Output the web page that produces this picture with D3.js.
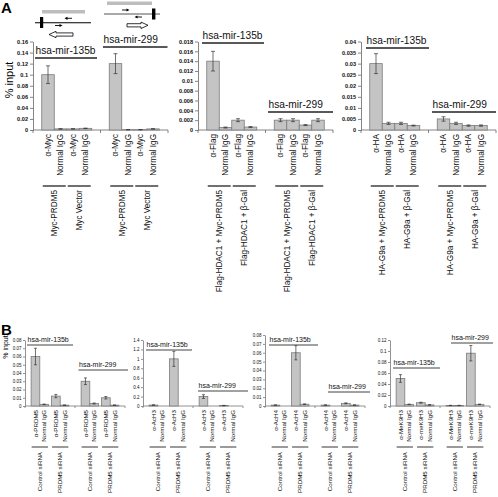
<!DOCTYPE html>
<html><head><meta charset="utf-8">
<script src="https://cdn.jsdelivr.net/npm/d3@7"></script>
<style>
body{margin:0;background:#fff}
svg{display:block}
text{font-family:"Liberation Sans",Arial,Helvetica,sans-serif}
</style>
</head><body>
<svg id="c" width="498" height="497"></svg>
<script>
// ================= DATA =================
const groupNames = ["hsa-mir-135b", "hsa-mir-299"];

// Panel A1 – Myc ChIP
const a1Antibodies = ["α-Myc", "Normal IgG", "α-Myc", "Normal IgG"];
const a1Conditions = ["Myc-PRDM5", "Myc Vector"];
const a1Mir135b = [0.100, 0.002, 0.002, 0.003];
const a1Mir135bErr = [0.016, 0.0003, 0.0003, 0.0004];
const a1Mir299 = [0.120, 0.0005, 0.0005, 0.002];
const a1Mir299Err = [0.018, 0.0001, 0.0001, 0.0003];
const a1Ticks = [0, 0.02, 0.04, 0.06, 0.08, 0.1, 0.12, 0.14, 0.16];
const a1TickLabels = ["0", "0.02", "0.04", "0.06", "0.08", "0.1", "0.12", "0.14", "0.16"];

// Panel A2 – Flag-HDAC1 ChIP
const a2Antibodies = ["α-Flag", "Normal IgG", "α-Flag", "Normal IgG"];
const a2Conditions = ["Flag-HDAC1 + Myc-PRDM5", "Flag-HDAC1 + β-Gal"];
const a2Mir135b = [0.014, 0.0005, 0.002, 0.0006];
const a2Mir135bErr = [0.002, 0.0001, 0.0003, 0.0001];
const a2Mir299 = [0.002, 0.002, 0.001, 0.002];
const a2Mir299Err = [0.0003, 0.0003, 0.0001, 0.0003];
const a2Ticks = [0, 0.002, 0.004, 0.006, 0.008, 0.01, 0.012, 0.014, 0.016, 0.018];
const a2TickLabels = ["0", "0.002", "0.004", "0.006", "0.008", "0.01", "0.012", "0.014", "0.016", "0.018"];

// Panel A3 – HA-G9a ChIP
const a3Antibodies = ["α-HA", "Normal IgG", "α-HA", "Normal IgG"];
const a3Conditions = ["HA-G9a + Myc-PRDM5", "HA-G9a + β-Gal"];
const a3Mir135b = [0.030, 0.003, 0.003, 0.002];
const a3Mir135bErr = [0.0045, 0.0005, 0.0005, 0.0002];
const a3Mir299 = [0.005, 0.003, 0.002, 0.002];
const a3Mir299Err = [0.001, 0.0005, 0.0003, 0.0003];
const a3Ticks = [0, 0.005, 0.01, 0.015, 0.02, 0.025, 0.03, 0.035, 0.04];
const a3TickLabels = ["0", "0.005", "0.01", "0.015", "0.02", "0.025", "0.03", "0.035", "0.04"];

// Panel B – siRNA conditions
const bConditions = ["Control siRNA", "PRDM5 siRNA"];

// Panel B1 – PRDM5 ChIP
const b1Antibodies = ["α-PRDM5", "Normal IgG", "α-PRDM5", "Normal IgG"];
const b1Mir135b = [0.060, 0.002, 0.012, 0.001];
const b1Mir135bErr = [0.010, 0.0003, 0.002, 0.0002];
const b1Mir299 = [0.030, 0.003, 0.010, 0.001];
const b1Mir299Err = [0.004, 0.0006, 0.0015, 0.0002];
const b1Ticks = [0, 0.01, 0.02, 0.03, 0.04, 0.05, 0.06, 0.07, 0.08];
const b1TickLabels = ["0", "0.01", "0.02", "0.03", "0.04", "0.05", "0.06", "0.07", "0.08"];

// Panel B2 – AcH3 ChIP
const b2Antibodies = ["α-AcH3", "Normal IgG", "α-AcH3", "Normal IgG"];
const b2Mir135b = [0.02, 0.0, 1.0, 0.0];
const b2Mir135bErr = [0.004, 0, 0.16, 0];
const b2Mir299 = [0.2, 0.0, 0.01, 0.0];
const b2Mir299Err = [0.04, 0, 0.003, 0];
const b2Ticks = [0, 0.2, 0.4, 0.6, 0.8, 1, 1.2, 1.4];
const b2TickLabels = ["0", "0.2", "0.4", "0.6", "0.8", "1", "1.2", "1.4"];

// Panel B3 – AcH4 ChIP
const b3Antibodies = ["α-AcH4", "Normal IgG", "α-AcH4", "Normal IgG"];
const b3Mir135b = [0.001, 0.0, 0.060, 0.002];
const b3Mir135bErr = [0.0002, 0, 0.008, 0.0003];
const b3Mir299 = [0.001, 0.0, 0.003, 0.001];
const b3Mir299Err = [0.0002, 0, 0.0005, 0.0002];
const b3Ticks = [0, 0.01, 0.02, 0.03, 0.04, 0.05, 0.06, 0.07, 0.08];
const b3TickLabels = ["0", "0.01", "0.02", "0.03", "0.04", "0.05", "0.06", "0.07", "0.08"];

// Panel B4 – MeK9H3 ChIP
const b4Antibodies = ["α-MeK9H3", "Normal IgG", "α-meK9H3", "Normal IgG"];
const b4Mir135b = [0.050, 0.003, 0.006, 0.002];
const b4Mir135bErr = [0.007, 0.0004, 0.0008, 0.0003];
const b4Mir299 = [0.001, 0.001, 0.096, 0.003];
const b4Mir299Err = [0.0002, 0.0002, 0.014, 0.0004];
const b4Ticks = [0, 0.02, 0.04, 0.06, 0.08, 0.1, 0.12];
const b4TickLabels = ["0", "0.02", "0.04", "0.06", "0.08", "0.1", "0.12"];

// ================= DRAWING =================
const svg = d3.select("#c");
const BAR_FILL = "#c4c4c4", BAR_STROKE = "#7c7c7c";

function drawPanel(L, D) {
  const g = svg.append("g");
  const y = d3.scaleLinear().domain([0, D.ticks[D.ticks.length - 1]]).range([L.y0, L.yTop]);
  const groupScale = d3.scaleBand().domain(groupNames).range([L.x0, L.x0 + 2 * L.hw]);
  const pairScale = d3.scaleBand().domain(D.conditions).range([0, L.hw])
    .paddingInner(L.pairGap).paddingOuter(L.outer);
  const barScale = d3.scaleBand().domain([0, 1]).range([0, pairScale.bandwidth()]);
  const bw = barScale.bandwidth();
  const bx = (gName, i) => groupScale(gName) + pairScale(D.conditions[Math.floor(i / 2)]) + barScale(i % 2);

  // y axis
  const axis = d3.axisLeft(y).tickValues(D.ticks).tickFormat((d, i) => D.tickLabels[i])
    .tickSizeInner(L.tickLen).tickSizeOuter(0).tickPadding(L.tickPad);
  const ax = g.append("g").attr("transform", `translate(${L.x0},0)`).call(axis);
  ax.select(".domain").attr("stroke", L.axisColor).attr("stroke-width", 0.8);
  ax.selectAll(".tick line").attr("stroke", L.axisColor).attr("stroke-width", 0.8);
  ax.selectAll(".tick text").attr("font-size", L.tickFont).attr("font-weight", L.tickWeight)
    .attr("fill", "#111").attr("font-family", "'Liberation Sans',Arial,sans-serif");

  // x axis
  g.append("line").attr("x1", L.x0).attr("x2", L.x0 + 2 * L.hw).attr("y1", L.y0).attr("y2", L.y0)
    .attr("stroke", L.axisColor).attr("stroke-width", 0.8);
  g.selectAll(null).data([0, 1, 2]).join("line")
    .attr("x1", d => L.x0 + d * L.hw).attr("x2", d => L.x0 + d * L.hw)
    .attr("y1", L.y0).attr("y2", L.y0 + L.tickLen)
    .attr("stroke", L.axisColor).attr("stroke-width", 0.8);

  D.groups.forEach((grp, gi) => {
    const gname = groupNames[gi];
    // bars
    g.selectAll(null).data(grp.values).join("rect")
      .attr("x", (d, i) => bx(gname, i)).attr("width", bw)
      .attr("y", d => y(d)).attr("height", d => L.y0 - y(d))
      .attr("fill", BAR_FILL).attr("stroke", BAR_STROKE).attr("stroke-width", 0.8);
    // error bars
    const eb = grp.values.map((v, i) => ({ v, e: grp.errs[i], i })).filter(d => d.e > 0);
    const eg = g.selectAll(null).data(eb).join("g")
      .attr("transform", d => `translate(${bx(gname, d.i) + bw / 2},0)`);
    eg.append("line").attr("y1", d => y(d.v + d.e)).attr("y2", d => y(d.v - d.e))
      .attr("stroke", "#333").attr("stroke-width", 0.7);
    eg.append("line").attr("x1", -L.cap).attr("x2", L.cap).attr("y1", d => y(d.v + d.e)).attr("y2", d => y(d.v + d.e))
      .attr("stroke", "#333").attr("stroke-width", 0.7);
    eg.append("line").attr("x1", -L.cap).attr("x2", L.cap).attr("y1", d => y(d.v - d.e)).attr("y2", d => y(d.v - d.e))
      .attr("stroke", "#333").attr("stroke-width", 0.7);

    // inner (antibody) labels, rotated
    g.selectAll(null).data(D.antibodies).join("text")
      .attr("transform", (d, i) => `translate(${bx(gname, i) + bw / 2 + L.labShift},${L.innerY}) rotate(-90)`)
      .attr("text-anchor", "end").attr("dy", "0.35em")
      .attr("font-size", L.labFont).attr("fill", "#111").text(d => d);

    // condition brackets and labels
    g.selectAll(null).data(D.conditions).join("line")
      .attr("x1", c => groupScale(gname) + pairScale(c) + L.pairInset)
      .attr("x2", c => groupScale(gname) + pairScale(c) + pairScale.bandwidth() - L.pairInset)
      .attr("y1", L.pairLineY).attr("y2", L.pairLineY)
      .attr("stroke", L.pairColor).attr("stroke-width", L.pairWidth);
    g.selectAll(null).data(D.conditions).join("text")
      .attr("transform", c => `translate(${groupScale(gname) + pairScale(c) + pairScale.bandwidth() / 2 + L.labShift},${L.condY}) rotate(-90)`)
      .attr("text-anchor", "end").attr("dy", "0.35em")
      .attr("font-size", L.labFont).attr("fill", "#111").text(c => c);

    // gene label with line
    const gx = groupScale(gname);
    const [lx0, lx1] = L.hsaX[gi];
    g.append("line").attr("x1", gx + lx0).attr("x2", gx + lx1)
      .attr("y1", L.hsaY[gi]).attr("y2", L.hsaY[gi])
      .attr("stroke", L.hsaColor).attr("stroke-width", L.hsaWidth);
    g.append("text").attr("x", gx + lx0 + 0.5).attr("y", L.hsaY[gi] - L.hsaDy)
      .attr("font-size", L.hsaFont).attr("fill", "#111").text(gname);
  });
}

const Abase = { y0: 130, yTop: 41.5, hw: 67.5, pairGap: 0, outer: 0.35, tickLen: 3, tickPad: 2,
  axisColor: "#666", tickFont: 5.6, tickWeight: "bold", cap: 2, labFont: 8.2, labShift: 0,
  innerY: 134, pairLineY: 186, condY: 190, pairInset: 1, pairColor: "#111", pairWidth: 1.2,
  hsaFont: 10.2, hsaColor: "#222", hsaWidth: 1.3, hsaDy: 4 };
const Bbase = { y0: 406, yTop: 340, hw: 50, pairGap: 0.15, outer: 0.3, tickLen: 2, tickPad: 1.5,
  axisColor: "#777", tickFont: 4.5, tickWeight: "normal", cap: 1.5, labFont: 6.2, labShift: 0,
  innerY: 410, pairLineY: 447, condY: 452, pairInset: 0.5, pairColor: "#9a9a9a", pairWidth: 2,
  hsaFont: 7, hsaColor: "#444", hsaWidth: 1.2, hsaDy: 3.5 };

drawPanel({ ...Abase, x0: 33, hsaX: [[2, 64], [2.5, 67]], hsaY: [58, 47] },
  { ticks: a1Ticks, tickLabels: a1TickLabels, antibodies: a1Antibodies, conditions: a1Conditions,
    groups: [{ values: a1Mir135b, errs: a1Mir135bErr }, { values: a1Mir299, errs: a1Mir299Err }] });
drawPanel({ ...Abase, x0: 198, hsaX: [[4, 66], [2.5, 67.5]], hsaY: [43, 112] },
  { ticks: a2Ticks, tickLabels: a2TickLabels, antibodies: a2Antibodies, conditions: a2Conditions,
    groups: [{ values: a2Mir135b, errs: a2Mir135bErr }, { values: a2Mir299, errs: a2Mir299Err }] });
drawPanel({ ...Abase, x0: 361, hsaX: [[5, 68], [3.5, 67.5]], hsaY: [48, 112] },
  { ticks: a3Ticks, tickLabels: a3TickLabels, antibodies: a3Antibodies, conditions: a3Conditions,
    groups: [{ values: a3Mir135b, errs: a3Mir135bErr }, { values: a3Mir299, errs: a3Mir299Err }] });

drawPanel({ ...Bbase, x0: 25, hsaX: [[2, 48], [3.5, 53]], hsaY: [345, 370] },
  { ticks: b1Ticks, tickLabels: b1TickLabels, antibodies: b1Antibodies, conditions: bConditions,
    groups: [{ values: b1Mir135b, errs: b1Mir135bErr }, { values: b1Mir299, errs: b1Mir299Err }] });
drawPanel({ ...Bbase, x0: 143, hsaX: [[3, 49], [5, 55]], hsaY: [350, 391] },
  { ticks: b2Ticks, tickLabels: b2TickLabels, antibodies: b2Antibodies, conditions: bConditions,
    groups: [{ values: b2Mir135b, errs: b2Mir135bErr }, { values: b2Mir299, errs: b2Mir299Err }] });
drawPanel({ ...Bbase, x0: 265, yTop: 335, hsaX: [[4, 53], [13, 55]], hsaY: [345, 392] },
  { ticks: b3Ticks, tickLabels: b3TickLabels, antibodies: b3Antibodies, conditions: bConditions,
    groups: [{ values: b3Mir135b, errs: b3Mir135bErr }, { values: b3Mir299, errs: b3Mir299Err }] });
drawPanel({ ...Bbase, x0: 390, hsaX: [[3, 50], [11, 53]], hsaY: [368, 343] },
  { ticks: b4Ticks, tickLabels: b4TickLabels, antibodies: b4Antibodies, conditions: bConditions,
    groups: [{ values: b4Mir135b, errs: b4Mir135bErr }, { values: b4Mir299, errs: b4Mir299Err }] });

// panel letters and y titles
svg.append("text").attr("x", 1).attr("y", 13).attr("font-size", 15).attr("font-weight", "bold").text("A");
svg.append("text").attr("x", 1).attr("y", 335).attr("font-size", 15).attr("font-weight", "bold").text("B");
svg.append("text").attr("transform", "translate(9,80) rotate(-90)").attr("text-anchor", "middle")
  .attr("dy", "0.35em").attr("font-size", 11).text("% input");
svg.append("text").attr("transform", "translate(5.5,347) rotate(-90)").attr("text-anchor", "middle")
  .attr("dy", "0.35em").attr("font-size", 7).text("% input");

// ---- gene locus diagrams (panel A, top) ----
const dg = svg.append("g");
function smallArrow(x1, x2, yy) {
  const dir = Math.sign(x2 - x1);
  dg.append("line").attr("x1", x1).attr("x2", x2 - dir * 2).attr("y1", yy).attr("y2", yy)
    .attr("stroke", "#000").attr("stroke-width", 0.9);
  dg.append("path").attr("d", `M${x2},${yy} L${x2 - dir * 3},${yy - 1.6} L${x2 - dir * 3},${yy + 1.6} Z`).attr("fill", "#000");
}
function hollowArrow(xTail, xHead, yc) {
  const dir = Math.sign(xHead - xTail);
  const hl = 7, sh = 1.6, hh = 3.2;
  const xb = xHead - dir * hl;
  dg.append("path").attr("d",
    `M${xTail},${yc - sh} L${xb},${yc - sh} L${xb},${yc - hh} L${xHead},${yc} L${xb},${yc + hh} L${xb},${yc + sh} L${xTail},${yc + sh} Z`)
    .attr("fill", "#fff").attr("stroke", "#000").attr("stroke-width", 0.8);
}
// mir-135b locus
dg.append("rect").attr("x", 42).attr("y", 10).attr("width", 43).attr("height", 3.5).attr("fill", "#bdbdbd");
dg.append("line").attr("x1", 35).attr("x2", 91).attr("y1", 22.7).attr("y2", 22.7).attr("stroke", "#000").attr("stroke-width", 1.1);
dg.append("rect").attr("x", 40).attr("y", 17).attr("width", 3.2).attr("height", 11).attr("fill", "#000");
smallArrow(72, 64.5, 18.3);
smallArrow(55, 62.5, 25.5);
hollowArrow(73, 49, 34.5);
// mir-299 locus
dg.append("rect").attr("x", 107).attr("y", 1.5).attr("width", 45).attr("height", 3.5).attr("fill", "#bdbdbd");
dg.append("line").attr("x1", 104).attr("x2", 160).attr("y1", 14).attr("y2", 14).attr("stroke", "#555").attr("stroke-width", 1.1);
dg.append("rect").attr("x", 152).attr("y", 8.5).attr("width", 3.4).attr("height", 11).attr("fill", "#000");
smallArrow(122, 129.5, 10);
smallArrow(142, 134.5, 17);
hollowArrow(127, 148, 25.3);
</script>
</body></html>
